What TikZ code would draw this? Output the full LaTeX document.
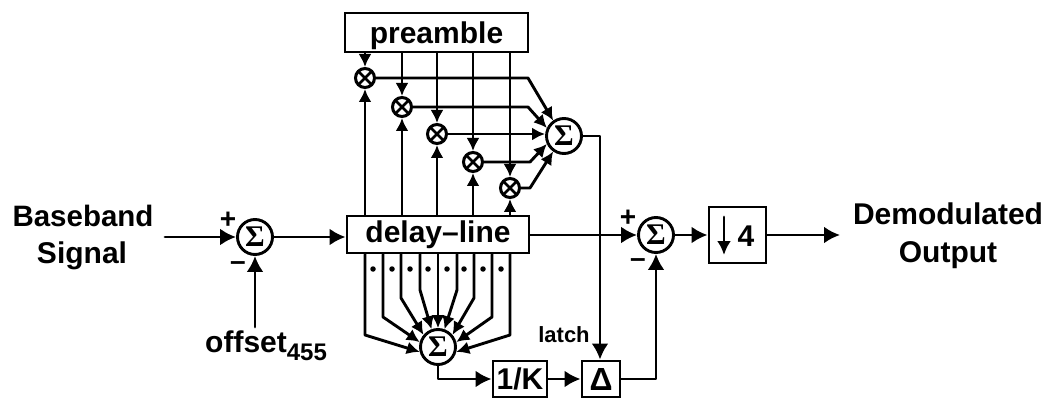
\documentclass[tikz,border=0pt]{standalone}
\usepackage{fontspec}
\setmainfont{Liberation Sans}
\newfontfamily\serifgreek{Liberation Serif}
\usetikzlibrary{arrows.meta,calc}
\tikzset{
  wire/.style={line width=2.9pt,line cap=round,line join=round},
  arr/.style={wire,-{Latex[length=16pt,width=17pt]}},
  sarr/.style={wire,-{Latex[length=13pt,width=13pt]}},
  blockbox/.style={draw,line width=2.9pt,inner sep=0pt,fill=white},
  sumnode/.style={draw,circle,line width=2.9pt,minimum size=35pt,inner sep=0pt,font=\serifgreek\bfseries\fontsize{30}{30}\selectfont},
  mult/.style={draw,circle,line width=3pt,minimum size=19pt,inner sep=0pt,
    path picture={\draw[line width=2.8pt] (path picture bounding box.north west)--(path picture bounding box.south east)
      (path picture bounding box.north east)--(path picture bounding box.south west);}},
  lab/.style={font=\bfseries\fontsize{30}{30}\selectfont,anchor=base,inner sep=0pt},
  sign/.style={font=\bfseries\fontsize{28}{28}\selectfont,inner sep=0pt},
  dotmark/.style={circle,fill,inner sep=0pt,minimum size=5.5pt}
}
\begin{document}
\begin{tikzpicture}[x=1pt,y=-1pt]
\useasboundingbox (0,0) rectangle (1044,398);
% blocks
\node[blockbox,minimum width=183pt,minimum height=39pt,font=\bfseries\fontsize{30}{30}\selectfont,text depth=0pt] (pre) at (436.5,32.5) {preamble};
\node[blockbox,minimum width=182pt,minimum height=37pt,font=\bfseries\fontsize{30}{30}\selectfont] (dl) at (438,234.5) {delay--line};
\node[blockbox,minimum width=54pt,minimum height=36pt,font=\bfseries\fontsize{30}{30}\selectfont] (k) at (520,379) {1/K};
\node[blockbox,minimum width=38pt,minimum height=36pt,font=\bfseries\fontsize{32}{32}\selectfont] (d) at (601,379) {Δ};
\node[blockbox,minimum width=57pt,minimum height=56pt] (dn) at (737.5,235) {};
\node[font=\bfseries\fontsize{30}{30}\selectfont,inner sep=0pt] (four) at (746,236) {4};
\coordinate (dnt) at (724,217);
\coordinate (dnb) at (724,255);
\draw[wire,-{Latex[length=14pt,width=14pt]}] (dnt) -- (dnb);
% sums
\node[sumnode] (s0) at (255,237) {Σ};
\node[sumnode] (s1) at (564,136) {Σ};
\node[sumnode] (s2) at (438,347) {Σ};
\node[sumnode] (s3) at (656,235) {Σ};
% multipliers
\node[mult] (m1) at (365,78) {};
\node[mult] (m2) at (402,107) {};
\node[mult] (m3) at (437,134) {};
\node[mult] (m4) at (473,162) {};
\node[mult] (m5) at (510,188) {};
% labels
\node[lab,font=\bfseries\fontsize{29.5}{30}\selectfont] (bb) at (83,227) {Baseband};
\node[lab] (sg) at (82,263) {Signal};
\node[lab] (dm) at (948,225) {Demodulated};
\node[lab] (ou) at (948,262) {Output};
\node[lab,anchor=base west] (of) at (205,352) {offset\raisebox{-8pt}{\fontsize{24}{24}\selectfont 455}};
\node[font=\bfseries\fontsize{22}{22}\selectfont,inner sep=0pt,anchor=base] (la) at (564,342) {latch};
\node[sign] (p0) at (228,220) {+};
\node[sign] (n0) at (238,266) {--};
\node[sign] (p3) at (628,218) {+};
\node[sign] (n3) at (638,263) {--};
% free ends
\coordinate (bbin) at (165,237);
\coordinate (ofin) at (255,327);
\coordinate (outend) at (840,235);
% main path
\draw[arr] (bbin) -- (s0.west);
\draw[arr] (ofin) -- (s0.south);
\draw[arr] (s0.east) -- (dl.west |- s0.east);
\draw[arr] (dl.east |- s3.west) -- (s3.west);
\draw[arr] (s3.east) -- (dn.west |- s3.east);
\draw[arr] (dn.east |- outend) -- (outend);
% preamble to multipliers
\foreach \m in {m1,m2,m3,m4,m5}{
  \draw[sarr] (pre.south -| \m) -- (\m.north);
  \draw[sarr] (dl.north -| \m) -- (\m.south);
}
% multipliers to sum
\coordinate (c1) at (528,78);
\coordinate (c2) at (528,107);
\coordinate (c4) at (530,162);
\coordinate (c5) at (530,188);
\draw[sarr] (m1.east) -- (c1) -- (s1.125);
\draw[sarr] (m2.east) -- (c2) -- (s1.155);
\draw[sarr] (m3.east) -- (s1.west |- m3.east);
\draw[sarr] (m4.east) -- (c4) -- (s1.205);
\draw[sarr] (m5.east) -- (c5) -- (s1.235);
% delay-line taps
\coordinate (b1) at (365,335);
\coordinate (b2) at (383,317);
\coordinate (b3) at (401,298);
\coordinate (b4) at (420,290);
\coordinate (b5) at (438,290);
\coordinate (b6) at (457,290);
\coordinate (b7) at (474,298);
\coordinate (b8) at (492,317);
\coordinate (b9) at (510,335);
\draw[sarr] (dl.south -| b1) -- (b1) -- (s2.195);
\draw[sarr] (dl.south -| b2) -- (b2) -- (s2.165);
\draw[sarr] (dl.south -| b3) -- (b3) -- (s2.140);
\draw[sarr] (dl.south -| b4) -- (b4) -- (s2.110);
\draw[sarr] (dl.south -| b5) -- (s2.north);
\draw[sarr] (dl.south -| b6) -- (b6) -- (s2.70);
\draw[sarr] (dl.south -| b7) -- (b7) -- (s2.40);
\draw[sarr] (dl.south -| b8) -- (b8) -- (s2.15);
\draw[sarr] (dl.south -| b9) -- (b9) -- (s2.-15);
\foreach \x in {373,392,410,428,447,464,483,501}{
  \node[dotmark] (dot\x) at (\x,269) {};
}
% lower path
\coordinate (c6) at (438,379);
\draw[arr] (s2.south) -- (c6) -- (k.west);
\draw[arr] (k.east) -- (d.west);
\coordinate (c7) at (600,136);
\draw[arr] (s1.east) -- (c7) -- (d.north -| c7);
\coordinate (c8) at (656,379);
\draw[arr] (d.east) -- (c8) -- (s3.south);
\end{tikzpicture}
\end{document}
